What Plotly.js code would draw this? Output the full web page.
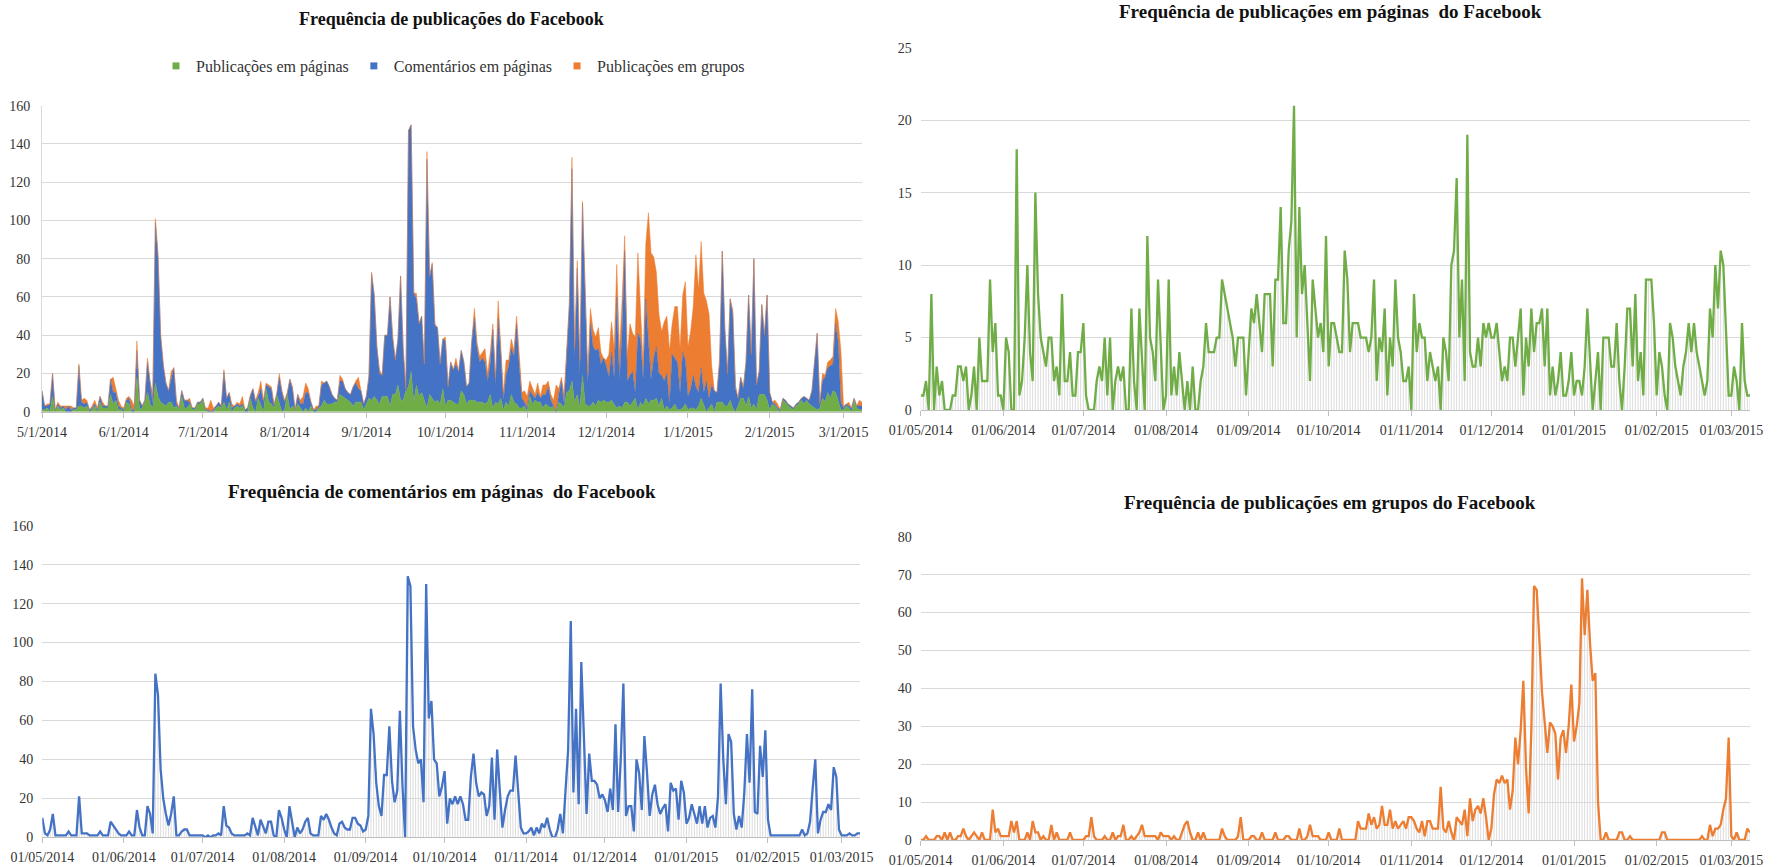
<!DOCTYPE html>
<html>
<head>
<meta charset="utf-8">
<script src="https://cdn.plot.ly/plotly-3.0.1.min.js"></script>
<style>
  html, body { margin: 0; padding: 0; background: #ffffff; }
  #chart { width: 1777px; height: 867px; }
</style>
</head>
<body>
<div id="chart"></div>
<script>
// ---------- DATA (daily counts, 01/05/2014 .. 08/03/2015) ----------
const START_DATE = "2014-05-01";
const DAY_COUNT = 312;

const seriesNames = ["Publicações em páginas", "Comentários em páginas", "Publicações em grupos"];

const publicacoesPaginas = [
  1,1,2,0,8,0,3,1,2,0,0,0,1,1,3,3,2,3,0,1,3,0,5,2,2,2,9,4,6,1,1,
  0,5,4,0,0,18,1,2,5,10,4,2,15,8,5,4,3,5,5,2,3,1,8,2,2,4,1,1,4,4,
  6,1,0,0,0,2,3,2,5,1,5,0,2,3,2,3,0,0,7,2,0,7,3,0,12,5,4,2,9,4,0,
  1,9,1,3,1,4,2,0,2,0,3,0,0,2,3,6,4,4,4,5,5,9,8,7,6,5,3,5,5,5,1,
  4,7,6,8,6,4,8,8,8,3,9,9,14,6,6,11,13,21,5,14,8,10,6,2,9,7,5,6,4,12,
  3,6,6,5,4,4,11,9,4,6,6,6,5,5,5,4,5,9,2,5,4,7,1,5,3,9,5,4,2,2,3,
  0,8,4,6,5,5,2,4,3,2,3,0,5,4,2,10,11,16,5,9,2,19,4,3,3,5,3,6,5,6,
  5,5,6,4,2,3,2,5,5,3,5,7,1,5,3,7,4,6,6,7,3,7,1,3,1,2,4,1,1,2,4,
  1,2,2,1,3,7,3,0,2,4,0,5,5,5,3,3,6,2,0,3,7,7,3,8,2,4,1,9,9,9,6,
  1,4,3,1,0,6,5,3,2,1,3,4,6,4,6,4,3,2,1,2,7,5,10,7,11,10,5,1,
  1,3,2,0,6,2,1,1
];

const comentariosPaginas = [
  10,2,1,4,12,1,1,1,1,1,3,1,1,1,21,2,2,2,1,1,1,1,3,1,1,1,8,6,4,2,1,
  1,1,3,1,1,14,5,1,1,16,12,2,84,73,35,20,12,6,12,21,1,1,3,4,4,1,1,1,1,1,
  1,0,1,0,1,1,2,1,16,6,5,2,1,1,1,1,1,2,1,10,5,1,9,5,2,8,8,1,0,14,10,
  4,0,16,9,0,5,2,4,8,10,2,1,1,1,11,9,12,9,5,2,1,7,8,5,4,4,10,10,7,6,3,
  4,11,66,53,28,16,11,32,32,57,29,18,24,65,26,0,134,129,57,45,38,40,18,130,61,70,40,38,21,26,
  34,7,20,17,21,17,21,17,9,9,31,43,28,21,23,22,11,16,41,9,45,24,5,14,21,24,24,42,22,5,2,
  2,3,5,1,5,2,7,5,10,4,0,0,4,12,2,24,45,111,23,66,17,90,53,12,43,29,29,27,20,22,
  19,13,25,14,58,13,40,79,11,16,16,3,40,33,14,52,33,11,22,27,17,12,15,17,3,28,24,25,9,29,23,
  7,10,17,12,7,16,7,16,5,10,11,5,21,79,40,17,53,49,12,4,11,5,23,53,28,76,13,12,47,31,55,
  9,1,1,1,1,1,1,1,1,1,1,1,1,4,1,2,8,25,40,2,9,13,13,17,14,36,31,4,
  1,1,1,2,1,1,2,2
];

const publicacoesGrupos = [
  0,0,1,0,0,0,1,1,0,2,0,2,0,0,1,1,3,1,0,1,2,1,0,2,0,0,0,8,2,3,1,
  1,1,1,5,2,5,0,0,0,2,0,5,2,2,0,1,0,0,4,0,2,0,0,0,0,2,0,0,0,0,
  0,1,1,6,1,0,0,0,1,0,0,2,0,1,1,4,0,0,1,0,1,2,4,1,1,1,1,1,0,2,1,
  1,1,0,1,0,0,2,4,5,2,0,0,2,0,2,0,0,0,0,0,0,3,1,0,0,0,0,1,6,0,0,
  0,1,1,0,0,2,0,0,0,0,2,0,0,0,1,1,0,0,0,3,0,0,1,4,1,1,1,0,0,0,
  2,0,0,0,3,0,0,0,0,0,0,5,3,3,3,7,4,6,3,4,9,4,4,8,3,5,3,4,5,3,6,
  6,5,3,2,5,1,5,5,3,3,3,14,3,2,5,2,0,6,5,4,8,1,11,5,8,9,7,11,6,0,
  3,12,16,15,17,15,16,8,13,27,20,29,42,19,7,29,67,66,53,39,31,23,31,30,28,16,27,29,23,30,41,
  26,30,36,69,54,66,52,42,44,10,0,0,2,0,0,0,0,2,2,0,0,1,0,0,0,0,0,0,0,0,0,
  0,0,2,2,0,0,0,0,0,0,0,0,0,0,0,0,0,1,0,0,4,1,3,3,4,8,11,27,
  1,0,2,0,0,0,3,2
];

const chartTitles = [
  "Frequência de publicações do Facebook",
  "Frequência de publicações em páginas  do Facebook",
  "Frequência de comentários em páginas  do Facebook",
  "Frequência de publicações em grupos do Facebook"
];

const colors = { green: "#70AD47", blue: "#4472C4", orange: "#ED7D31", drop: "#d9d9d9" };

// ---------- build date categories ----------
function buildDates(start, n) {
  const out = [];
  const t0 = Date.parse(start + "T00:00:00Z");
  for (let i = 0; i < n; i++) {
    out.push(new Date(t0 + i * 86400000).toISOString().slice(0, 10));
  }
  return out;
}
const dates = buildDates(START_DATE, DAY_COUNT);
const RANGE = [dates[0], dates[dates.length - 1]];

// ---------- helpers ----------
const W = 1777, H = 867;
const px = (a, b) => [a / W, b / W];
const py = (top, bottom) => [1 - bottom / H, 1 - top / H];

const serif = "Liberation Serif, Times New Roman, serif";
const tickFont = { family: serif, size: 14, color: "#333333" };
const BAR_W = 0.35 * 86400000;

function xAxis(domain, anchor, fmt) {
  return {
    domain: domain, anchor: anchor, type: "date", range: RANGE,
    tick0: START_DATE, dtick: "M1", tickformat: fmt,
    ticks: "outside", ticklen: 5, tickcolor: "#bfbfbf", tickwidth: 1,
    showline: true, linecolor: "#bfbfbf", linewidth: 1,
    showgrid: false, zeroline: false, tickfont: tickFont,
    ticklabelstandoff: 2, fixedrange: true
  };
}
function yAxis(domain, anchor, max, step, leftLine) {
  return {
    domain: domain, anchor: anchor, range: [0, max], dtick: step, tick0: 0,
    showgrid: true, gridcolor: "#d9d9d9", gridwidth: 1,
    zeroline: false, showline: !!leftLine, linecolor: "#d9d9d9",
    ticks: "", tickfont: tickFont, ticklabelstandoff: 8, fixedrange: true
  };
}

// ---------- traces ----------
const traces = [];

// Top-left stacked areas
[[publicacoesPaginas, colors.green, seriesNames[0]],
 [comentariosPaginas, colors.blue, seriesNames[1]],
 [publicacoesGrupos, colors.orange, seriesNames[2]]].forEach(([vals, c, name]) => {
  traces.push({
    type: "scatter", mode: "lines", x: dates, y: vals, name: name,
    stackgroup: "all", fillcolor: c, line: { color: c, width: 0.5 },
    xaxis: "x", yaxis: "y", showlegend: false, hoverinfo: "skip"
  });
});
// Legend entries (square swatches)
[[colors.green, seriesNames[0]], [colors.blue, seriesNames[1]], [colors.orange, seriesNames[2]]].forEach(([c, name]) => {
  traces.push({
    type: "scatter", mode: "markers", x: [dates[0]], y: [null], name: name,
    marker: { symbol: "square", size: 7, color: c },
    xaxis: "x", yaxis: "y", showlegend: true, hoverinfo: "skip"
  });
});

// Line panels with light drop bars
[[publicacoesPaginas, colors.green, "x2", "y2", seriesNames[0]],
 [comentariosPaginas, colors.blue, "x3", "y3", seriesNames[1]],
 [publicacoesGrupos, colors.orange, "x4", "y4", seriesNames[2]]].forEach(([vals, c, xa, ya, name]) => {
  traces.push({
    type: "bar", x: dates, y: vals, width: BAR_W,
    marker: { color: colors.drop, line: { width: 0 } },
    xaxis: xa, yaxis: ya, showlegend: false, hoverinfo: "skip"
  });
  traces.push({
    type: "scatter", mode: "lines", x: dates, y: vals, name: name,
    line: { color: c, width: 2.3 },
    xaxis: xa, yaxis: ya, showlegend: false, hoverinfo: "skip"
  });
});

// ---------- layout ----------
function titleAnn(text, xc, yc, size) {
  return {
    text: text, xref: "paper", yref: "paper", x: xc / W, y: 1 - yc / H,
    xanchor: "center", yanchor: "middle", showarrow: false,
    font: { family: serif, size: size, color: "#111111", weight: "bold" }
  };
}

const layout = {
  width: W, height: H,
  margin: { l: 0, r: 0, t: 0, b: 0 },
  paper_bgcolor: "#ffffff", plot_bgcolor: "#ffffff",
  hovermode: false,
  barmode: "overlay",
  showlegend: true,
  legend: {
    orientation: "h", x: 156 / W, xanchor: "left", y: 1 - 66 / H, yanchor: "middle",
    font: { family: serif, size: 16, color: "#333333" },
    bgcolor: "rgba(0,0,0,0)", itemwidth: 30, traceorder: "normal", tracegroupgap: 0
  },
  xaxis:  xAxis(px(42, 862), "y", "%-m/%-d/%Y"),
  yaxis:  yAxis(py(105.7, 411.7), "x", 160, 20, true),
  xaxis2: xAxis(px(920.7, 1750), "y2", "%d/%m/%Y"),
  yaxis2: yAxis(py(47.7, 410), "x2", 25, 5, false),
  xaxis3: xAxis(px(42.3, 860), "y3", "%d/%m/%Y"),
  yaxis3: yAxis(py(525.7, 837.3), "x3", 160, 20, false),
  xaxis4: xAxis(px(920.7, 1750), "y4", "%d/%m/%Y"),
  yaxis4: yAxis(py(536.7, 840), "x4", 80, 10, false),
  annotations: [
    titleAnn(chartTitles[0], 452, 19, 18),
    titleAnn(chartTitles[1], 1330, 12, 19),
    titleAnn(chartTitles[2], 442, 491, 19),
    titleAnn(chartTitles[3], 1330, 502, 19)
  ]
};

Plotly.newPlot("chart", traces, layout, { displayModeBar: false, staticPlot: true });
</script>
</body>
</html>
